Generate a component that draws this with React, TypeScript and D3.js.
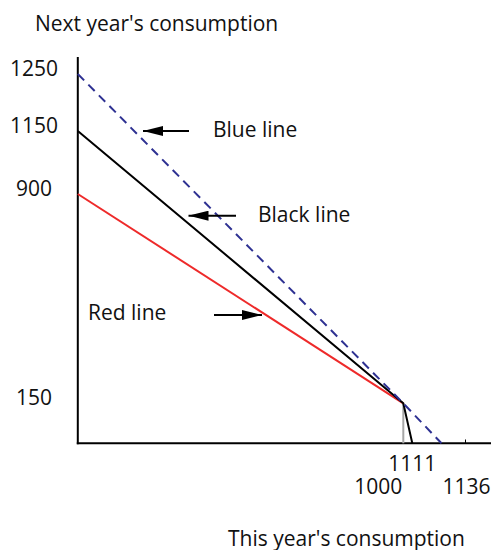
import { line, scaleLinear } from "d3";

// schematic budget diagram: values as labelled on the axes
const yTicks = [150, 900, 1150, 1250];
const xTicks = [1000, 1111, 1136];

const blueLine = [
  { x: 0, y: 1250 },
  { x: 1000, y: 150 },
  { x: 1136, y: 0 },
];
const blackLine = [
  { x: 0, y: 1150 },
  { x: 1000, y: 150 },
  { x: 1111, y: 0 },
];
const redLine = [
  { x: 0, y: 900 },
  { x: 1000, y: 150 },
];
const dropLine = [
  { x: 1000, y: 150 },
  { x: 1000, y: 0 },
];

const font = "'Open Sans', 'DejaVu Sans', sans-serif";

export default function App() {
  const width = 493;
  const height = 550;
  const originX = 77.8;
  const originY = 443.3;

  // the drawing is not to scale, so both scales are piecewise
  const x = scaleLinear()
    .domain([0, 1000, 1111, 1136])
    .range([originX, 403.3, 412.3, 441.5]);
  const y = scaleLinear()
    .domain([0, 150, 900, 1150, 1250])
    .range([originY, 403.3, 194, 131, 74]);

  const path = line<{ x: number; y: number }>()
    .x((d) => x(d.x))
    .y((d) => y(d.y));

  // label rows / shifts for the x ticks so they do not collide
  const xLabelPos: Record<number, { dx: number; row: number }> = {
    1000: { dx: -25, row: 1 },
    1111: { dx: 0, row: 0 },
    1136: { dx: 25, row: 1 },
  };

  const arrows = [
    { x1: 189, x2: 143, y: 131 },
    { x1: 236, x2: 188.5, y: 215.7 },
    { x1: 214, x2: 262, y: 315 },
  ];

  const notes = [
    { text: "Blue line", x: 213, y: 136.5 },
    { text: "Black line", x: 258, y: 221.5 },
    { text: "Red line", x: 88, y: 320 },
  ];

  return (
    <svg
      width={width}
      height={height}
      style={{ position: "absolute", left: 0, top: 0, background: "#fff" }}
      fontFamily={font}
    >
      <defs>
        <marker
          id="head"
          viewBox="0 0 20 10"
          refX="20"
          refY="5"
          markerWidth="20"
          markerHeight="10"
          markerUnits="userSpaceOnUse"
          orient="auto"
        >
          <path d="M0 0 L20 5 L0 10 Z" fill="#000" />
        </marker>
      </defs>

      <text x={35} y={31} fontSize="21" fill="#111">
        Next year's consumption
      </text>
      <text x={228} y={545.5} fontSize="21" fill="#111">
        This year's consumption
      </text>

      {/* axes */}
      <line x1={originX} x2={originX} y1={57} y2={originY + 1} stroke="#000" strokeWidth="2" />
      <line x1={originX - 1} x2={491} y1={originY} y2={originY} stroke="#000" strokeWidth="2" />
      <line x1={x(1136) + 24} x2={x(1136) + 24} y1={439.5} y2={originY} stroke="#000" strokeWidth="1" />

      {yTicks.map((v) => (
        <text key={v} x={34} y={y(v) + 1.5} textAnchor="middle" fontSize="21" fill="#111">
          {v}
        </text>
      ))}
      {xTicks.map((v) => (
        <text
          key={v}
          x={x(v) + xLabelPos[v].dx}
          y={470.5 + xLabelPos[v].row * 23.5}
          textAnchor="middle"
          fontSize="21"
          fill="#111"
        >
          {v}
        </text>
      ))}

      <path d={path(dropLine) ?? ""} fill="none" stroke="#a6a6a6" strokeWidth="2" />
      <path d={path(redLine) ?? ""} fill="none" stroke="#ee2a2a" strokeWidth="2" />
      <path d={path(blackLine) ?? ""} fill="none" stroke="#000" strokeWidth="2" />
      <path
        d={path(blueLine) ?? ""}
        fill="none"
        stroke="#2e3192"
        strokeWidth="2"
        strokeDasharray="9 6"
      />

      {arrows.map((a, i) => (
        <line
          key={i}
          x1={a.x1}
          x2={a.x2}
          y1={a.y}
          y2={a.y}
          stroke="#000"
          strokeWidth="2"
          markerEnd="url(#head)"
        />
      ))}
      {notes.map((n) => (
        <text key={n.text} x={n.x} y={n.y} fontSize="21" fill="#111">
          {n.text}
        </text>
      ))}
    </svg>
  );
}
